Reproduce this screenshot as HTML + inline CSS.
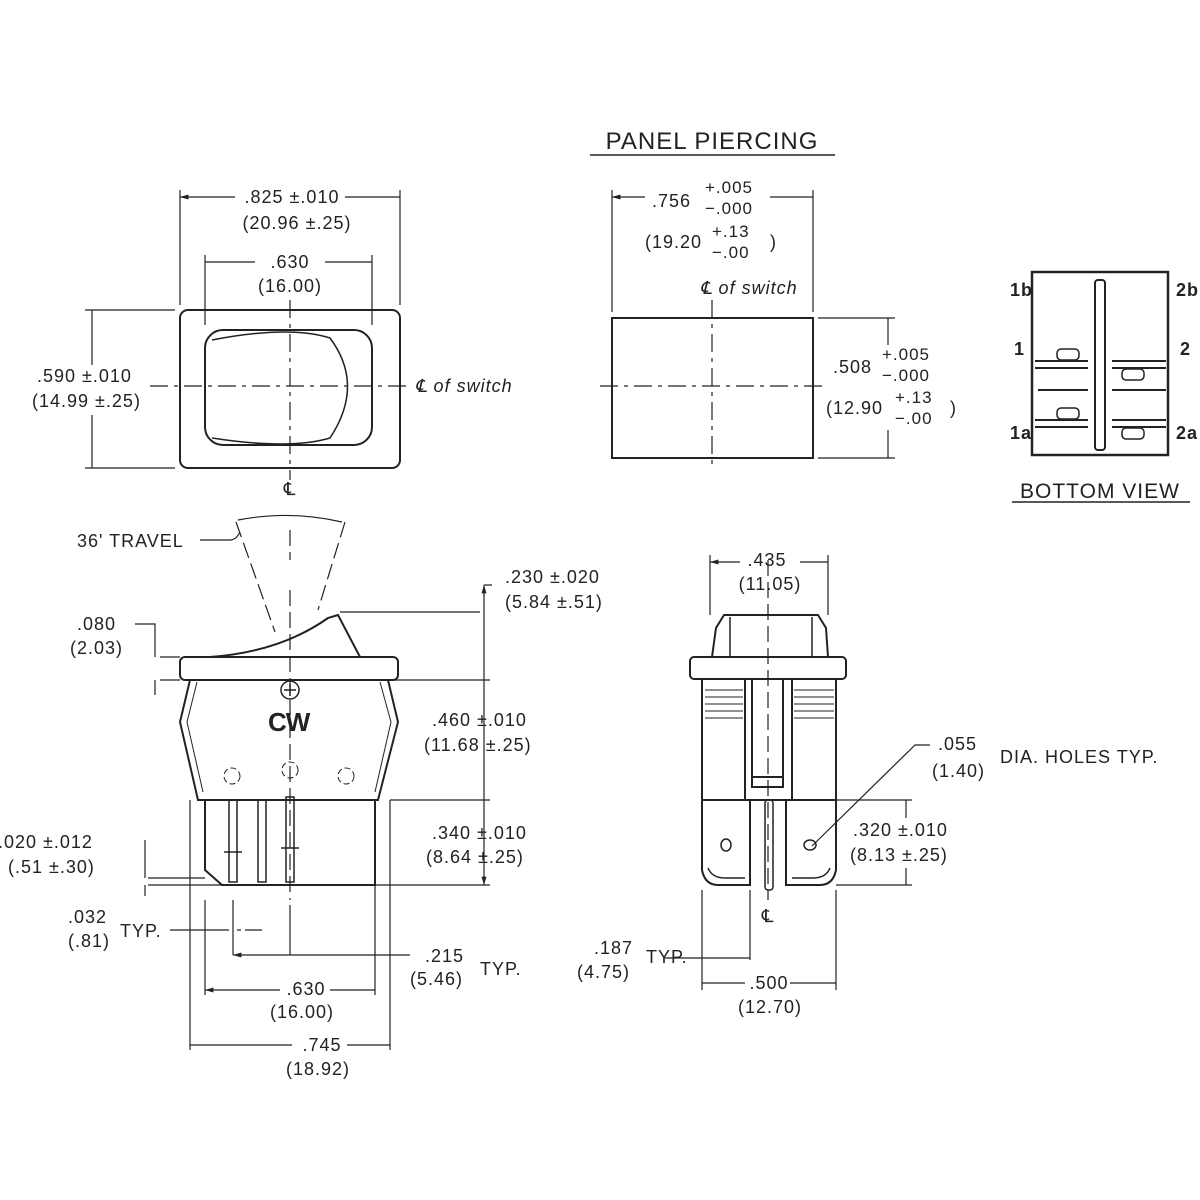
<!DOCTYPE html>
<html><head><meta charset="utf-8"><style>
html,body{margin:0;padding:0;background:#fff}
svg{display:block}
text{font-family:"Liberation Sans",sans-serif;font-size:18px;fill:#222;letter-spacing:1px}
</style></head><body>
<svg width="1200" height="1200" viewBox="0 0 1200 1200" xmlns="http://www.w3.org/2000/svg">
<defs><marker id="a" viewBox="0 0 10 10" refX="10" refY="5" markerWidth="7" markerHeight="7" orient="auto-start-reverse"><path d="M0,2 L10,5 L0,8z" fill="#222"/></marker></defs>
<g stroke="#222" stroke-width="1.5" fill="none">
<rect x="180" y="310" width="220" height="158" rx="8" stroke-width="2"/>
<rect x="205" y="330" width="167" height="115" rx="18" stroke-width="2"/>
<path d="M212,340 Q290,325 330,338 Q365,385 330,438 Q290,450 212,438" stroke-width="1.5"/>
<path d="M290,300V480 M150,386H410" stroke-dasharray="18,6,4,6" stroke-width="1.2"/>
<path d="M180,305V190 M400,305V190 M205,325V255 M372,325V255 M175,310H85 M175,468H85" stroke-width="1.2"/>
<path d="M180,197H235 M345,197H400 M205,262H255 M325,262H372 M92,310V365 M92,415V468" marker-start="url(#a)" stroke-width="1.2"/>
<path d="M590,155H835" stroke-width="1.5"/>
<rect x="612" y="318" width="201" height="140" stroke-width="2"/>
<path d="M712,300V470 M600,386H825" stroke-dasharray="18,6,4,6" stroke-width="1.2"/>
<path d="M612,312V190 M813,312V190 M818,318H895 M818,458H895" stroke-width="1.2"/>
<path d="M612,197H645 M770,197H813 M888,318V345 M888,430V458" marker-start="url(#a)" stroke-width="1.2"/>
<rect x="1032" y="272" width="136" height="183" stroke-width="2.5"/>
<rect x="1095" y="280" width="10" height="170" rx="3" stroke-width="2"/>
<path d="M1035,361H1088 M1035,368H1088 M1112,361H1166 M1112,368H1166 M1038,390H1088 M1112,390H1166 M1035,420H1088 M1035,427H1088 M1112,420H1166 M1112,427H1166" stroke-width="2"/>
<rect x="1057" y="349" width="22" height="11" rx="4"/><rect x="1122" y="369" width="22" height="11" rx="4"/>
<rect x="1057" y="408" width="22" height="11" rx="4"/><rect x="1122" y="428" width="22" height="11" rx="4"/>
<path d="M1012,502H1190" stroke-width="1.5"/>
<path d="M236,522 L275,632 M345,522 L318,610 M290,530V560 M290,590V900" stroke-dasharray="16,6" stroke-width="1.2"/>
<path d="M238,520 Q290,510 342,522" stroke-width="1.2"/>
<rect x="180" y="657" width="218" height="23" rx="5" stroke-width="2"/>
<path d="M210,657 Q280,652 328,618 L338,615 L360,657" stroke-width="2"/>
<path d="M190,680 L180,722 L198,800 H378 L398,722 L388,680" stroke-width="2"/>
<path d="M197,682 L187,722 L203,792 M380,682 L391,722 L375,792" stroke-width="1"/>
<circle cx="290" cy="690" r="9"/><path d="M284,690H296M290,684V696"/>
<path d="M205,800V870 L222,885 H375 V800" stroke-width="2"/>
<path d="M190,800V1050 M390,800V1050 M375,885V995" stroke-width="1.2"/>
<rect x="229" y="800" width="8" height="82" stroke-width="1.5"/>
<rect x="258" y="800" width="8" height="82" stroke-width="1.5"/>
<rect x="286" y="797" width="8" height="85" stroke-width="1.5"/>
<path d="M224,852H242 M281,848H299"/>
<circle cx="232" cy="776" r="8" stroke-dasharray="6,3" stroke-width="1"/>
<circle cx="290" cy="770" r="8" stroke-dasharray="6,3" stroke-width="1"/>
<circle cx="346" cy="776" r="8" stroke-dasharray="6,3" stroke-width="1"/>
<path d="M340,612H480 M390,680H490 M390,800H490 M375,885H490 M148,885H230 M148,878H205 M160,657H180 M160,680H180" stroke-width="1.2"/>
<path d="M484,585V612 M484,612V680 M484,680V800 M484,800V885" marker-start="url(#a)" marker-end="url(#a)" stroke-width="1.2"/>
<path d="M484,585H492 M135,624H155 V657 M155,695V680 M145,840V878 M145,896V885 M170,930H225 M245,930H262" stroke-width="1.2"/>
<path d="M205,900V995 M233,900V955 M290,955V905 M225,930H229 M237,930H241" stroke-width="1.2"/>
<path d="M233,955H410" marker-start="url(#a)" stroke-width="1.2"/>
<path d="M205,990H280 M330,990H375 M190,1045H292 M347,1045H390" marker-start="url(#a)" stroke-width="1.2"/>
<path d="M200,540H230 Q236,540 240,532" stroke-width="1.2"/>
<path d="M712,657 L716,628 L724,615 H818 L826,628 L828,657" stroke-width="2"/>
<path d="M730,617V657 M812,617V657"/>
<rect x="690" y="657" width="156" height="22" rx="4" stroke-width="2"/>
<path d="M702,679V800 H836 V679 M745,679V800 M792,679V800 M752,679V787 H783 V679 M752,777H783" stroke-width="2"/>
<path d="M705,690H743M705,697H743M705,704H743M705,711H743M705,718H743M794,690H834M794,697H834M794,704H834M794,711H834M794,718H834" stroke-width="1"/>
<path d="M702,800V870 Q705,885 718,885 H750 V800 M836,800V870 Q833,885 820,885 H786 V800" stroke-width="2"/>
<path d="M708,868 Q712,878 725,878 H745 M830,868 Q826,878 813,878 H792"/>
<rect x="765" y="800" width="8" height="90" rx="3"/>
<ellipse cx="726" cy="845" rx="5" ry="6"/><ellipse cx="810" cy="845" rx="6" ry="5"/>
<path d="M768,560V900" stroke-dasharray="16,6" stroke-width="1.2"/>
<path d="M710,555V615 M828,555V615 M702,890V990 M750,890V960 M836,890V990 M836,800H912 M836,885H912" stroke-width="1.2"/>
<path d="M710,562H740 M800,562H828 M702,958H750 M702,983H745 M790,983H836 M906,800V818 M906,868V885" marker-start="url(#a)" stroke-width="1.2"/>
<path d="M665,958H702" stroke-width="1.2"/>
<path d="M812,846 L915,745 H930" stroke-width="1.2"/>
</g>
<g text-anchor="middle">
<text x="292" y="203">.825 ±.010</text><text x="297" y="229">(20.96 ±.25)</text>
<text x="290" y="268">.630</text><text x="290" y="292">(16.00)</text>
<text x="290" y="495">℄</text>
<text x="712" y="149" style="font-size:24px">PANEL  PIERCING</text>
<text x="1100" y="498" style="font-size:21px">BOTTOM  VIEW</text>
<text x="767" y="566">.435</text><text x="770" y="590">(11.05)</text>
<text x="768" y="922">℄</text>
<text x="306" y="995">.630</text><text x="302" y="1018">(16.00)</text>
<text x="322" y="1051">.745</text><text x="318" y="1075">(18.92)</text>
<text x="769" y="989">.500</text><text x="770" y="1013">(12.70)</text>
</g>
<text x="37" y="382">.590 ±.010</text><text x="32" y="407">(14.99 ±.25)</text>
<text x="415" y="392" style="font-style:italic">℄ of switch</text>
<text x="652" y="207">.756</text><text x="705" y="193" style="font-size:17px">+.005</text><text x="705" y="214" style="font-size:17px">−.000</text>
<text x="645" y="248">(19.20</text><text x="712" y="237" style="font-size:17px">+.13</text><text x="712" y="258" style="font-size:17px">−.00</text><text x="770" y="248">)</text>
<text x="700" y="294" style="font-style:italic">℄ of switch</text>
<text x="833" y="373">.508</text><text x="882" y="360" style="font-size:17px">+.005</text><text x="882" y="381" style="font-size:17px">−.000</text>
<text x="826" y="414">(12.90</text><text x="895" y="403" style="font-size:17px">+.13</text><text x="895" y="424" style="font-size:17px">−.00</text><text x="950" y="414">)</text>
<g style="font-size:14px;font-weight:bold"><text x="1010" y="296">1b</text><text x="1176" y="296">2b</text><text x="1014" y="355">1</text><text x="1180" y="355">2</text><text x="1010" y="439">1a</text><text x="1176" y="439">2a</text></g>
<text x="77" y="547">36' TRAVEL</text>
<text x="505" y="583">.230 ±.020</text><text x="505" y="608">(5.84 ±.51)</text>
<text x="77" y="630">.080</text><text x="70" y="654">(2.03)</text>
<text x="268" y="731" style="font-size:26px;font-weight:bold;letter-spacing:-1px">CW</text>
<text x="432" y="726">.460 ±.010</text><text x="424" y="751">(11.68 ±.25)</text>
<text x="432" y="839">.340 ±.010</text><text x="426" y="863">(8.64 ±.25)</text>
<text x="-2" y="848">.020 ±.012</text><text x="8" y="873">(.51 ±.30)</text>
<text x="68" y="923">.032</text><text x="120" y="937">TYP.</text><text x="68" y="947">(.81)</text>
<text x="425" y="962">.215</text><text x="410" y="985">(5.46)</text><text x="480" y="975">TYP.</text>
<text x="594" y="954">.187</text><text x="646" y="963">TYP.</text><text x="577" y="978">(4.75)</text>
<text x="938" y="750">.055</text><text x="1000" y="763">DIA. HOLES TYP.</text><text x="932" y="777">(1.40)</text>
<text x="853" y="836">.320 ±.010</text><text x="850" y="861">(8.13 ±.25)</text>
</svg>
</body></html>
